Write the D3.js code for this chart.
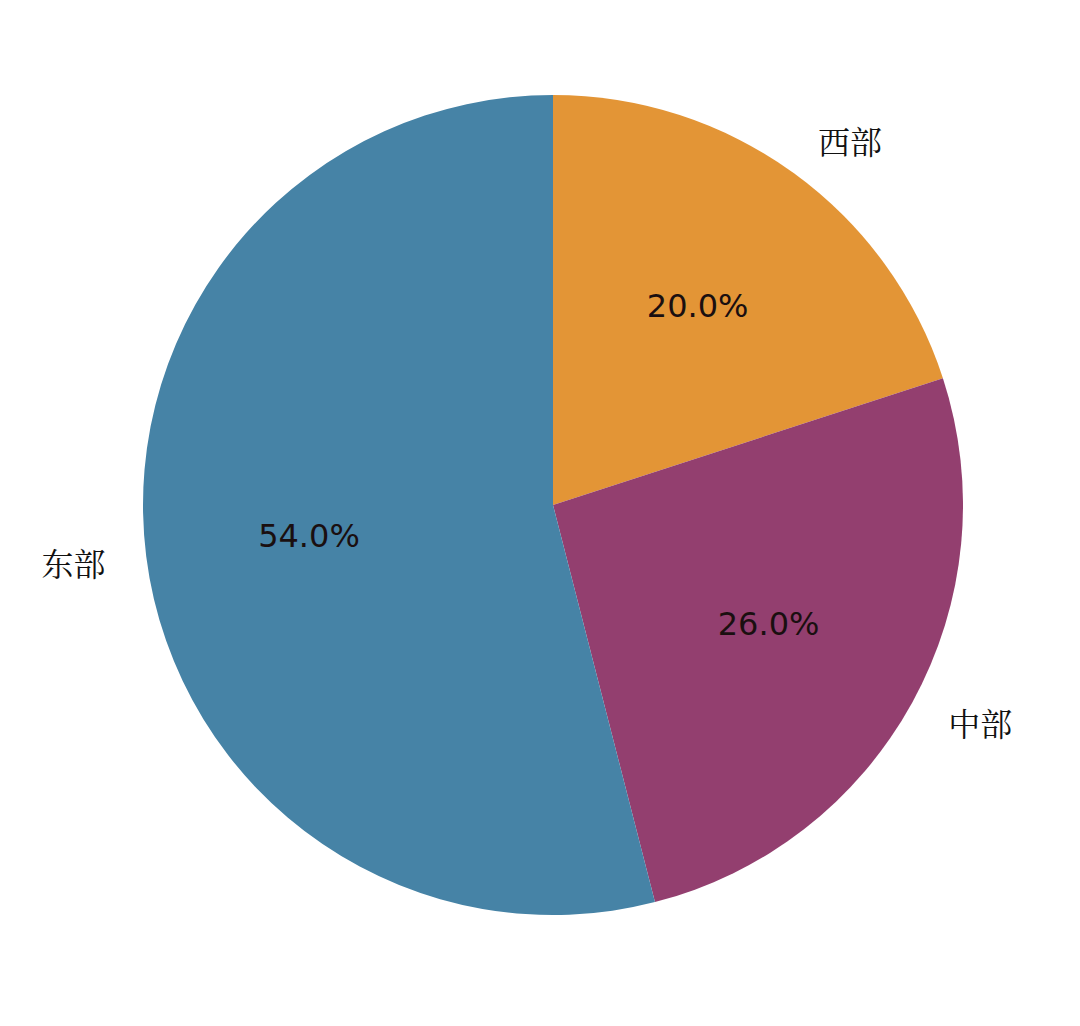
<!DOCTYPE html>
<html>
<head>
<meta charset="utf-8">
<script src="https://cdn.jsdelivr.net/npm/d3@7"></script>
<style>
  body { margin: 0; background: #fff; }
</style>
</head>
<body>
<div id="chart"></div>
<script>
// regions, clockwise from 12 o'clock
var regions = ['西部', '中部', '东部']
var shares = [20, 26, 54]
var colours = ['#e39536', '#933f6f', '#4683a6']

var w = 1080
var h = 1026
var cx = 553
var cy = 505
var r = 410

var svg = d3.select('#chart').append('svg')
  .attr('width', w)
  .attr('height', h)

var data = regions.map(function (d, i) {
  return { name: d, value: shares[i], colour: colours[i] }
})

var pie = d3.pie()
  .sort(null)
  .value(function (d) { return d.value })

var arc = d3.arc().innerRadius(0).outerRadius(r)

var g = svg.append('g').attr('transform', 'translate(' + cx + ',' + cy + ')')
var arcs = pie(data)

g.selectAll('path.slice')
  .data(arcs)
  .enter().append('path')
  .attr('class', 'slice')
  .attr('d', arc)
  .attr('fill', function (d) { return d.data.colour })

function mid(d) { return (d.startAngle + d.endAngle) / 2 }

// percentage labels at 0.6 r
g.selectAll('text.pct')
  .data(arcs)
  .enter().append('text')
  .attr('class', 'pct')
  .attr('x', function (d) { return 0.6 * r * Math.sin(mid(d)) })
  .attr('y', function (d) { return -0.6 * r * Math.cos(mid(d)) })
  .attr('text-anchor', 'middle')
  .attr('dominant-baseline', 'central')
  .attr('font-family', 'DejaVu Sans, sans-serif')
  .attr('font-size', 32)
  .attr('fill', '#1a0f10')
  .text(function (d) { return d.data.value.toFixed(1) + '%' })

// category labels at 1.1 r
g.selectAll('text.name')
  .data(arcs)
  .enter().append('text')
  .attr('class', 'name')
  .attr('x', function (d) { return 1.1 * r * Math.sin(mid(d)) })
  .attr('y', function (d) { return -1.1 * r * Math.cos(mid(d)) })
  .attr('text-anchor', function (d) { return Math.sin(mid(d)) > 0 ? 'start' : 'end' })
  .attr('dominant-baseline', 'central')
  .attr('font-family', '"Noto Serif CJK SC", "Noto Sans CJK SC", serif')
  .attr('font-size', 32)
  .attr('fill', '#111')
  .text(function (d) { return d.data.name })
</script>
</body>
</html>
